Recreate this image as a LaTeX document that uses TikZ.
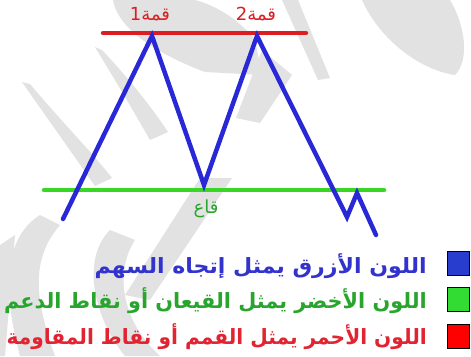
\documentclass[tikz,border=0pt]{standalone}
\usepackage{fontspec}
\TeXXeTstate=1
\newfontfamily\arabicfont[Script=Arabic]{DejaVu Sans}
\definecolor{lineblue}{RGB}{40,40,215}
\definecolor{linegreen}{RGB}{55,215,35}
\definecolor{linered}{RGB}{220,30,35}
\definecolor{txtblue}{RGB}{50,50,205}
\definecolor{txtgreen}{RGB}{40,165,45}
\definecolor{txtred}{RGB}{225,35,50}
\definecolor{boxblue}{RGB}{40,60,205}
\definecolor{boxgreen}{RGB}{50,220,50}
\definecolor{boxred}{RGB}{255,0,0}
\definecolor{wm}{RGB}{226,226,226}
\tikzset{
  wmark/.style={fill=wm, draw=none},
  trend/.style={draw=lineblue, line width=4.5pt, line cap=round, line join=miter},
  level/.style={line width=4.5pt, line cap=round},
  peaklbl/.style={text=linered, font=\arabicfont\fontsize{18}{21}\selectfont, inner sep=0pt},
  legtxt/.style={font=\arabicfont\bfseries\fontsize{21}{24}\selectfont, anchor=east, inner sep=0pt},
  legbox/.style={draw=black, line width=1pt, minimum width=22pt, minimum height=24pt, inner sep=0pt}
}
\begin{document}
\begin{tikzpicture}[x=1pt,y=-1pt]
\useasboundingbox (0,0) rectangle (471,356);
\fill[white] (0,0) rectangle (471,356);
% watermark
\fill[wmark] (113,0) .. controls (118,30) and (160,55) .. (205,72) -- (262,75) -- (255,40) .. controls (240,20) and (215,5) .. (195,0) -- cycle;
\fill[wmark] (22,82) -- (30,84) .. controls (60,120) and (90,150) .. (112,178) -- (95,186) .. controls (70,150) and (45,115) .. cycle;
\fill[wmark] (95,47) -- (102,50) .. controls (130,80) and (150,105) .. (168,132) -- (150,140) .. controls (130,105) and (115,80) .. cycle;
\fill[wmark] (282,0) -- (298,0) -- (330,78) -- (318,80) -- cycle;
\fill[wmark] (362,0) .. controls (380,40) and (420,70) .. (455,75) .. controls (470,60) and (465,25) .. (450,0) -- cycle;
\fill[wmark] (262,50) -- (292,75) -- (260,123) -- (236,118) -- cycle;
\fill[wmark] (200,178) -- (232,178) -- (150,300) -- (125,295) -- cycle;
\fill[wmark] (40,215) .. controls (0,240) and (5,300) .. (20,356) -- (55,356) .. controls (35,300) and (30,260) .. (60,225) -- cycle;
\fill[wmark] (110,230) .. controls (80,260) and (95,320) .. (125,356) -- (160,356) .. controls (120,320) and (115,270) .. (135,240) -- cycle;
\fill[wmark] (0,245) -- (15,235) -- (5,356) -- (0,356) -- cycle;
% levels
\coordinate (rl) at (103,33);
\coordinate (rr) at (306,33);
\coordinate (gl) at (44,190);
\coordinate (gr) at (384,190);
\draw[level, draw=linered] (rl) -- (rr);
\draw[level, draw=linegreen] (gl) -- (gr);
% trend path
\coordinate (s) at (63,219);
\coordinate (p1) at (152,36);
\coordinate (t) at (204,185);
\coordinate (p2) at (257,36);
\coordinate (b1) at (347,217);
\coordinate (b2) at (357,193);
\coordinate (e) at (376,235);
\draw[trend] (s) -- (p1) -- (t) -- (p2) -- (b1) -- (b2) -- (e);
% labels
\node[peaklbl] (lp1) at (150,14) {1\arabicfont\beginR قمة\endR};
\node[peaklbl] (lp2) at (256,14) {2\arabicfont\beginR قمة\endR};
\node[text=txtgreen, font=\arabicfont\fontsize{18}{21}\selectfont, inner sep=0pt] (lt) at (206,209) {\beginR قاع\endR};
% legend
\node[legbox, fill=boxblue] (k1) at (458.5,263) {};
\node[legbox, fill=boxgreen] (k2) at (458.5,299) {};
\node[legbox, fill=boxred] (k3) at (458.5,336) {};
\node[legtxt, text=txtblue, xscale=1.05] (t1) at (427,266) {\beginR اللون الأزرق يمثل إتجاه السهم\endR};
\node[legtxt, text=txtgreen, xscale=0.99] (t2) at (427,301) {\beginR اللون الأخضر يمثل القيعان أو نقاط الدعم\endR};
\node[legtxt, text=txtred, xscale=0.96] (t3) at (427,337) {\beginR اللون الأحمر يمثل القمم أو نقاط المقاومة\endR};
\end{tikzpicture}
\end{document}
